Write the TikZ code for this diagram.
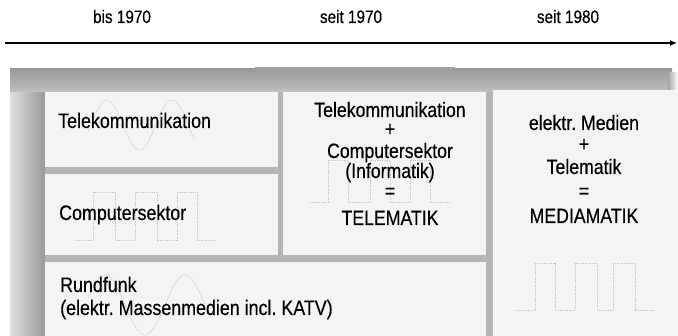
\documentclass[tikz,border=0pt]{standalone}
\usepackage{fontspec}
\setmainfont{Liberation Sans}
\newfontfamily\condfont[FakeStretch=0.85,FakeBold=0.35]{Liberation Sans}
\usetikzlibrary{arrows.meta}
\frenchspacing
\begin{document}
\begin{tikzpicture}[x=1pt,y=-1pt,
  hdr/.style={font=\condfont\fontsize{18}{18}\selectfont, inner sep=0pt, anchor=base},
  lft/.style={font=\condfont\fontsize{21}{21}\selectfont, inner sep=0pt, anchor=base west},
  mid/.style={font=\condfont\fontsize{20.8}{21}\selectfont, inner sep=0pt, anchor=base},
  boxfill/.style={fill=gray!9, draw=none},
  wave/.style={gray!45, densely dotted, line width=0.8pt},
  axis/.style={line width=1.3pt, -{Latex[length=7pt,width=6pt]}}
]
\useasboundingbox (0,0) rectangle (678,336);
\fill[white] (0,0) rectangle (678,336);

% timeline
\coordinate (tl) at (5,43);
\coordinate (tr) at (677,43);
\draw[axis] (tl) -- (tr);
\node[hdr] (h1) at (122,23) {bis 1970};
\node[hdr] (h2) at (351,23) {seit 1970};
\node[hdr] (h3) at (568,23) {seit 1980};

% frame background
\fill[gray!58] (12,70) rectangle (672,336);
\shade[left color=gray!25, right color=gray!80] (10,70) rectangle (45,336);
\shade[top color=gray!80, bottom color=gray!50] (10,69) rectangle (672,92);
\fill[gray!75] (255,67) rectangle (455,72);
\shade[left color=gray!70, right color=white] (668,73) rectangle (678,90);

% boxes
\fill[boxfill] (45,92) rectangle (278,167);
\fill[boxfill] (45,174) rectangle (278,255);
\fill[boxfill] (45,262) rectangle (486,336);
\fill[boxfill] (283,92) rectangle (486,255);
\fill[boxfill] (493,90) rectangle (678,336);

% faint signals
\draw[wave] plot[domain=88:195,samples=80,smooth] (\x,{125-25*cos((\x-107)/65*360)});
\draw[wave] (75,240) -- (93,240) -- (93,192) -- (115,192) -- (115,240) -- (135,240) -- (135,192) -- (157,192) -- (157,240) -- (177,240) -- (177,192) -- (197,192) -- (197,240) -- (215,240);
\draw[wave] (310,202) -- (328,202) -- (328,160) -- (348,160) -- (348,202) -- (370,202) -- (370,160) -- (390,160) -- (390,202) -- (410,202) -- (410,160) -- (430,160) -- (430,202) -- (450,202);
\draw[wave] (515,310) -- (535,310) -- (535,263) -- (555,263) -- (555,310) -- (575,310) -- (575,263) -- (597,263) -- (597,310) -- (613,310) -- (613,263) -- (635,263) -- (635,310) -- (655,310);
\begin{scope}
\clip (45,262) rectangle (486,336);
\draw[wave] plot[domain=88:205,samples=80,smooth] (\x,{305-30*cos((\x-185)/80*360)});
\end{scope}

% left column labels
\node[lft] (tk) at (58,128) {Telekommunikation};
\node[lft] (cs) at (59,220) {Computersektor};
\node[lft] (rf) at (60,292) {Rundfunk};
\node[lft] (rfm) at (60,315) {(elektr. Massenmedien incl. KATV)};

% middle column
\node[mid] (m1) at (390,117) {Telekommunikation};
\node[mid] (m2) at (390,136) {+};
\node[mid] (m3) at (390,158) {Computersektor};
\node[mid] (m4) at (390,178) {(Informatik)};
\node[mid] (m5) at (390,198) {=};
\node[mid] (m6) at (390,225) {TELEMATIK};

% right column
\node[mid] (r1) at (584,130) {elektr. Medien};
\node[mid] (r2) at (584,151) {+};
\node[mid] (r3) at (584,174) {Telematik};
\node[mid] (r4) at (584,198) {=};
\node[mid] (r5) at (584,223) {MEDIAMATIK};
\end{tikzpicture}
\end{document}
